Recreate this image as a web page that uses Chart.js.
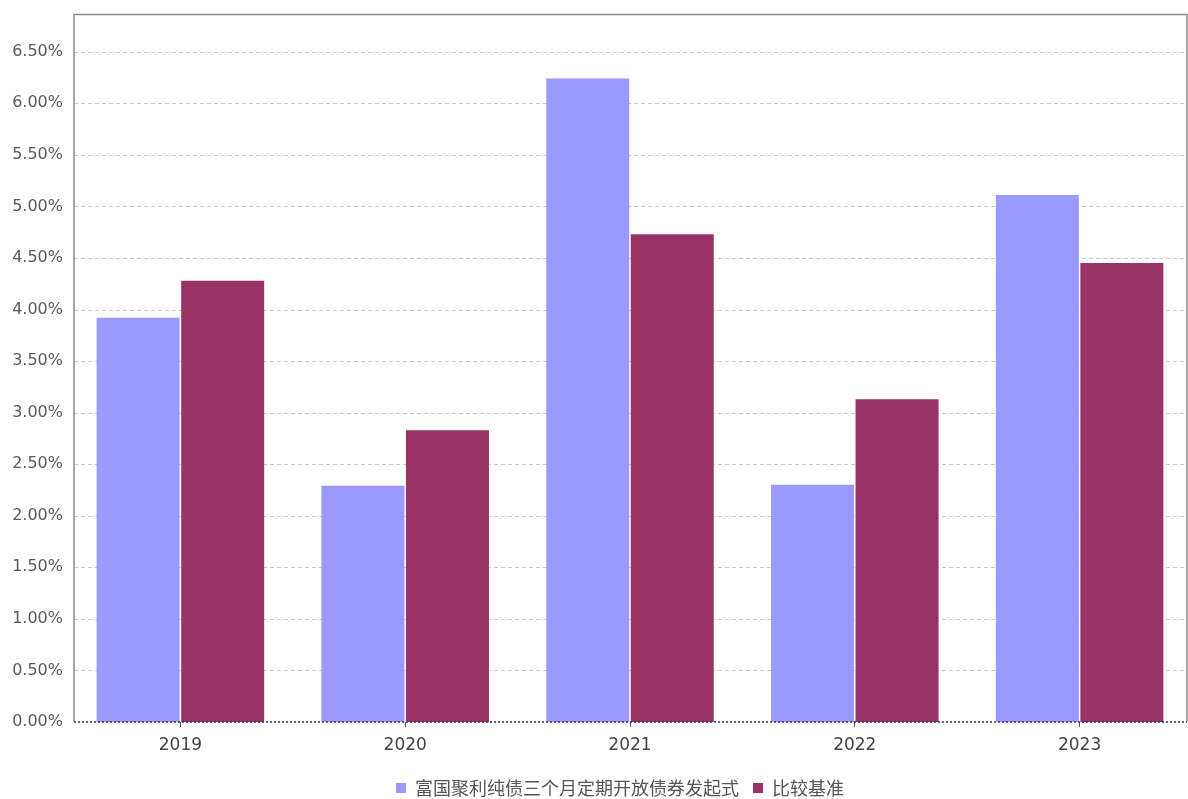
<!DOCTYPE html>
<html>
<head>
<meta charset="utf-8">
<script src="https://cdn.jsdelivr.net/npm/chart.js@4"></script>
<style>
html,body{margin:0;padding:0;background:#fff;overflow:hidden;width:1188px;height:799px;}
#wrap{width:1200px;height:807px;position:relative;}
</style>
</head>
<body>
<div id="wrap"><canvas id="c"></canvas></div>
<script>
const categories = ['2019', '2020', '2021', '2022', '2023'];
const fundName = '富国聚利纯债三个月定期开放债券发起式';
const benchName = '比较基准';
const fundValues = [3.92, 2.29, 6.24, 2.30, 5.11];
const benchValues = [4.28, 2.83, 4.73, 3.13, 4.45];
const yTicks = [0, 0.5, 1, 1.5, 2, 2.5, 3, 3.5, 4, 4.5, 5, 5.5, 6, 6.5];

const FRAME_LEFT = 74, FRAME_RIGHT = 1187;

const gridPlugin = {
  id: 'gridlines',
  afterLayout(chart) {
    if (chart.legend) { chart.legend.left += 24; chart.legend.right += 24; }
  },
  beforeDatasetsDraw(chart) {
    const {ctx} = chart;
    const ys = chart.scales.y;
    ctx.save();
    ctx.strokeStyle = '#c8c8c8';
    ctx.lineWidth = 1;
    ctx.setLineDash([4, 3]);
    yTicks.forEach(v => {
      if (v === 0) return;
      const y = Math.round(ys.getPixelForValue(v)) + 0.5;
      ctx.beginPath();
      ctx.moveTo(FRAME_LEFT, y);
      ctx.lineTo(FRAME_RIGHT, y);
      ctx.stroke();
    });
    ctx.restore();
  }
};

const framePlugin = {
  id: 'frame',
  afterDraw(chart) {
    const {ctx, chartArea: a} = chart;
    ctx.save();
    ctx.strokeStyle = '#8a8a8a';
    ctx.lineWidth = 1.5;
    ctx.beginPath();
    ctx.moveTo(FRAME_LEFT, a.bottom);
    ctx.lineTo(FRAME_LEFT, a.top);
    ctx.lineTo(FRAME_RIGHT, a.top);
    ctx.lineTo(FRAME_RIGHT, a.bottom);
    ctx.stroke();
    ctx.strokeStyle = '#333355';
    ctx.setLineDash([2, 2]);
    ctx.beginPath();
    ctx.moveTo(FRAME_LEFT, a.bottom);
    ctx.lineTo(FRAME_RIGHT, a.bottom);
    ctx.stroke();
    ctx.restore();
  }
};

new Chart(document.getElementById('c'), {
  type: 'bar',
  data: {
    labels: categories,
    datasets: [
      {label: fundName, data: fundValues, backgroundColor: '#9999FF', categoryPercentage: 0.752, barPercentage: 0.982},
      {label: benchName, data: benchValues, backgroundColor: '#993366', categoryPercentage: 0.752, barPercentage: 0.982}
    ]
  },
  options: {
    responsive: true,
    maintainAspectRatio: false,
    animation: false,
    layout: {padding: {top: 5, right: 8, left: 0, bottom: 0}},
    plugins: {
      tooltip: {enabled: false},
      legend: {
        position: 'bottom',
        labels: {
          boxWidth: 10, boxHeight: 10, padding: 14,
          color: '#555',
          font: {family: '"Noto Sans CJK SC", "DejaVu Sans", sans-serif', size: 18}
        }
      }
    },
    scales: {
      x: {
        grid: {display: true, drawOnChartArea: false, offset: false, tickLength: 5, color: '#555'},
        border: {display: false},
        ticks: {color: '#444', padding: 8, font: {family: '"DejaVu Sans", sans-serif', size: 17}},
        afterFit(s) { s.height = 43; }
      },
      y: {
        min: 0, max: 6.86,
        afterBuildTicks(s) { s.ticks = yTicks.map(v => ({value: v})); },
        grid: {display: false, drawTicks: false, tickLength: 0},
        border: {display: false},
        ticks: {
          color: '#5a5a5a', padding: 5,
          font: {family: '"DejaVu Sans", sans-serif', size: 16},
          callback: v => v.toFixed(2) + '%'
        },
        afterFit(s) { s.width = 68; }
      }
    }
  },
  plugins: [gridPlugin, framePlugin]
});
</script>
</body>
</html>
